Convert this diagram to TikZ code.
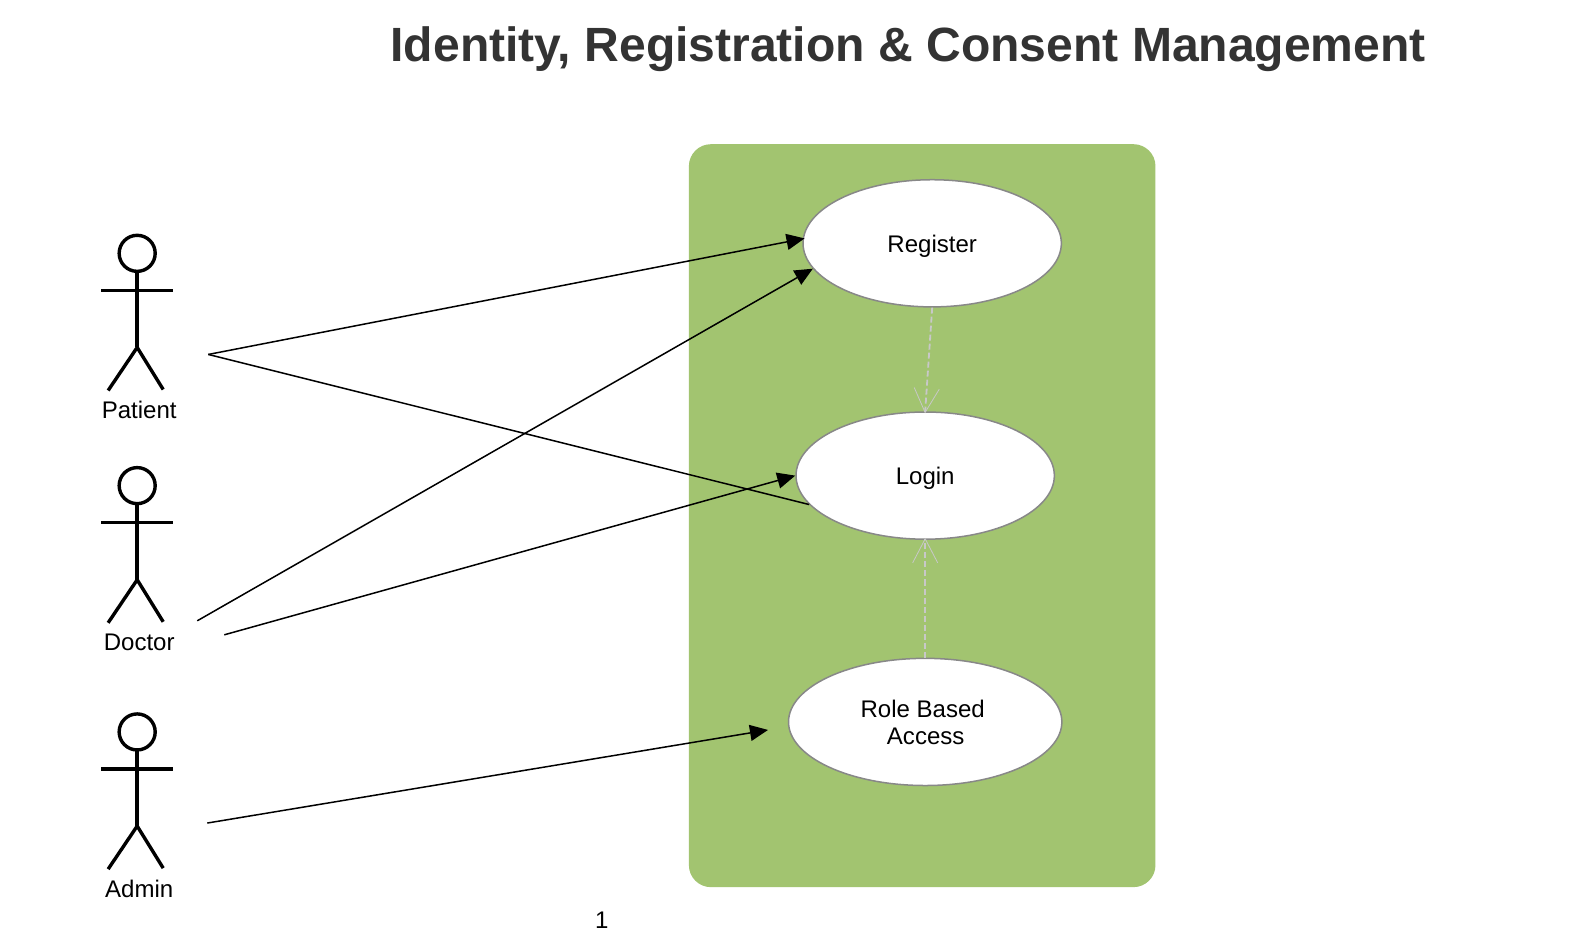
\documentclass[tikz,border=0pt]{standalone}
\usepackage{fontspec}
\setmainfont{Liberation Sans}
\usetikzlibrary{arrows.meta,shapes.geometric}
\definecolor{boxgreen}{HTML}{A2C470}
\definecolor{titlegray}{HTML}{333333}
\definecolor{edgegray}{HTML}{888888}
\definecolor{dashgray}{HTML}{C8C8C8}
\tikzset{
  usecase/.style={ellipse,draw=edgegray,line width=1.5pt,fill=white,inner sep=0pt,
    minimum width=258pt,minimum height=127pt,align=center,font=\fontsize{24}{27}\selectfont},
  actorlabel/.style={inner sep=0pt,font=\fontsize{24}{27}\selectfont},
  stick/.style={draw=black,line width=3.4pt},
  assoc/.style={draw=black,line width=1.5pt,-{Triangle[length=18pt,width=16pt]}},
  plainassoc/.style={draw=black,line width=1.5pt},
  depend/.style={draw=dashgray,line width=1.8pt,dash pattern=on 6pt off 3pt,shorten >=-2pt,
    -{Straight Barb[length=24pt,width=25pt,line width=0.8pt]}},
}
\newcommand{\stickman}[1]{%
  \draw[stick] (137,#1+253) circle (18);
  \draw[stick] (137,#1+271) -- (137,#1+347);
  \draw[stick] (101,#1+290) -- (173,#1+290);
  \draw[stick] (108,#1+390) -- (137,#1+347) -- (163,#1+389);
}
\begin{document}
\begin{tikzpicture}[x=1pt,y=-1pt]
\useasboundingbox (0,0) rectangle (1568,927);
\fill[white] (0,0) rectangle (1568,927);
\node[inner sep=0pt,text=titlegray,font=\bfseries\fontsize{48}{54}\selectfont] (title) at (907,49) {Identity, Registration \& Consent Management};
\fill[boxgreen,rounded corners=22pt] (688,144) rectangle (1154,886);
\node[usecase,text depth=0pt] (register) at (931,243) {Register};
\node[usecase,text depth=0pt] (login) at (924,475) {Login};
\node[usecase,minimum width=273pt] (role) at (924,721) {\hspace*{-5pt}Role Based\\\hspace*{1pt}Access};
\stickman{0}
\stickman{232}
\stickman{478}
\node[actorlabel] (patient) at (139,409) {Patient};
\node[actorlabel] (doctor) at (139,642) {Doctor};
\node[actorlabel] (admin) at (139,888) {Admin};
\node[inner sep=0pt,font=\fontsize{24}{27}\selectfont] (page) at (601,919.5) {1};
\coordinate (patientout) at (208,354);
\coordinate (doctorouta) at (197,620);
\coordinate (doctoroutb) at (224,634);
\coordinate (adminout) at (207,822);
\coordinate (rolein) at (767,729);
\draw[assoc,shorten >=-2pt] (patientout) -- (register.178);
\draw[assoc] (doctorouta) -- (register.192);
\draw[plainassoc] (patientout) -- (login.194);
\draw[assoc] (doctoroutb) -- (login.west);
\draw[assoc] (adminout) -- (rolein);
\draw[depend] (register.south) -- (login.north);
\draw[depend] (role.north) -- (login.south);
\end{tikzpicture}
\end{document}
